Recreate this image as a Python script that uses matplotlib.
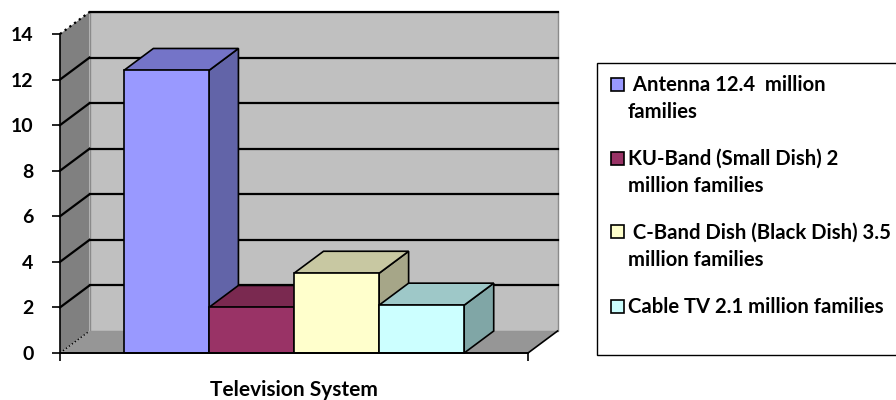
import matplotlib
matplotlib.use("Agg")
import matplotlib.pyplot as plt
from matplotlib.patches import Polygon, Rectangle

plt.rcParams["font.family"] = ["Lato", "DejaVu Sans"]
plt.rcParams["font.weight"] = "bold"

# data
categories = ["Antenna", "KU-Band", "C-Band", "Cable TV"]
values = [12.4, 2.0, 3.5, 2.1]
legend_labels = [
    " Antenna 12.4  million\nfamilies",
    "KU-Band (Small Dish) 2\nmillion families",
    " C-Band Dish (Black Dish) 3.5\nmillion families",
    "Cable TV 2.1 million families",
]
front_colors = ["#9999FF", "#993366", "#FFFFCC", "#CCFFFF"]
top_colors = ["#7474C8", "#7A2950", "#C8C8A2", "#9EC8C8"]
side_colors = ["#6264A8", "#6A2446", "#A6A688", "#80A6A6"]
yticks = [0, 2, 4, 6, 8, 10, 12, 14]
xlabel = "Television System"

W, H = 896, 400
fig = plt.figure(figsize=(W / 100, H / 100), dpi=100)
ax = fig.add_axes([60 / W, 47 / H, 468 / W, 319 / H])
xmax, ymax = 5.5, 14
ax.set_xlim(0, xmax)
ax.set_ylim(0, ymax)
ax.set_facecolor("none")

# oblique depth offset in data units
DX, DY = 0.347, 0.965

# walls and floor
ax.add_patch(Polygon([(DX, DY), (xmax + DX, DY), (xmax + DX, ymax + DY), (DX, ymax + DY)],
                     closed=True, facecolor="#C0C0C0", edgecolor="#8a8a8a", lw=1, clip_on=False, zorder=0))
ax.add_patch(Polygon([(0, 0), (DX, DY), (DX, ymax + DY), (0, ymax)],
                     closed=True, facecolor="#808080", edgecolor="none", clip_on=False, zorder=0))
ax.add_patch(Polygon([(0, 0), (xmax, 0), (xmax + DX, DY), (DX, DY)],
                     closed=True, facecolor="#969696", edgecolor="none", clip_on=False, zorder=0))
ax.plot([xmax, xmax + DX], [0, DY], color="black", lw=1.2, clip_on=False, zorder=1)
ax.plot([0, DX], [0, DY], color="black", lw=1, ls=":", clip_on=False, zorder=1)

# gridlines on the walls
for v in yticks[1:]:
    ls = ":" if v == ymax else "-"
    ax.plot([0, DX], [v, v + DY], color="black", lw=1.6, ls=ls, clip_on=False, zorder=1)
    ax.plot([DX, xmax + DX], [v + DY, v + DY], color="black", lw=1.6, clip_on=False, zorder=1)

# 3d-looking bars
for i, v in enumerate(values):
    x0 = 0.75 + i
    x1 = x0 + 1
    z = 2 + i
    ax.add_patch(Polygon([(x1, 0), (x1 + DX, DY), (x1 + DX, v + DY), (x1, v)], closed=True,
                         facecolor=side_colors[i], edgecolor="black", lw=1.2, clip_on=False, zorder=z))
    ax.add_patch(Polygon([(x0, v), (x1, v), (x1 + DX, v + DY), (x0 + DX, v + DY)], closed=True,
                         facecolor=top_colors[i], edgecolor="black", lw=1.2, clip_on=False, zorder=z))
    ax.add_patch(Rectangle((x0, 0), 1, v, facecolor=front_colors[i], edgecolor="black",
                           lw=1.2, clip_on=False, zorder=z))

for s in ["top", "right"]:
    ax.spines[s].set_visible(False)
ax.spines["left"].set_linewidth(1.2)
ax.spines["bottom"].set_linewidth(1.4)
ax.spines["left"].set_zorder(10)
ax.spines["bottom"].set_zorder(10)

ax.set_yticks(yticks)
ax.set_yticklabels([str(t) for t in yticks], fontsize=14, fontweight="bold")
ax.tick_params(axis="y", length=6, width=1.2, pad=13)
ax.set_xticks([0, xmax])
ax.set_xticklabels(["", ""])
ax.tick_params(axis="x", length=6, width=1.2)
ax.set_xlabel(xlabel, fontsize=15, fontweight="bold", labelpad=10)

# legend box
fig.patches.append(Rectangle((597 / W, 1 - 355 / H), 320 / W, (355 - 63) / H,
                             transform=fig.transFigure, facecolor="white",
                             edgecolor="black", lw=1, clip_on=False))
for i, lab in enumerate(legend_labels):
    base = 91 + 74 * i
    fig.patches.append(Rectangle((611 / W, 1 - (base - 0.5) / H), 13 / W, 13 / H,
                                 transform=fig.transFigure, facecolor=front_colors[i],
                                 edgecolor="black", lw=1.2))
    for j, line in enumerate(lab.split("\n")):
        fig.text(628 / W, 1 - (base + 27 * j) / H, line, fontsize=14.6, fontweight="bold",
                 va="baseline", ha="left")

fig.savefig("out.png", dpi=100)
